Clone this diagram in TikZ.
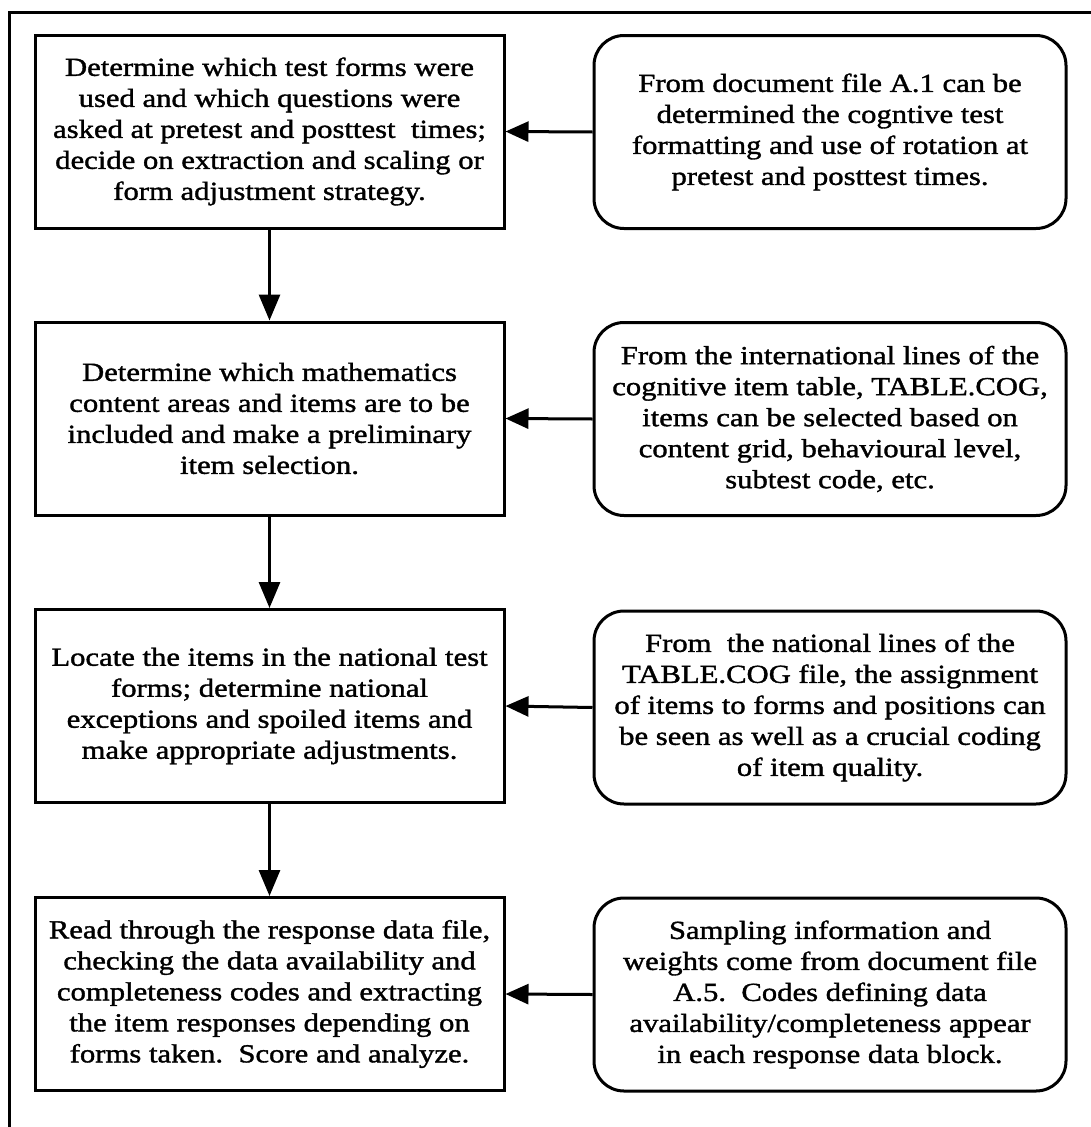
\documentclass[tikz,border=0pt]{standalone}
\usepackage{fontspec}
\setmainfont{Liberation Serif}[FakeStretch=1.18,FakeBold=1.4]
\usetikzlibrary{arrows.meta}

\tikzset{
  frameline/.style={line width=3pt},
  stepbox/.style={draw, line width=3pt, minimum width=469pt, minimum height=193pt,
    align=center, inner sep=0pt, font=\fontsize{26}{31}\selectfont},
  notebox/.style={draw, line width=3pt, rounded corners=30pt, minimum width=472pt,
    minimum height=193pt, align=center, inner sep=0pt, font=\fontsize{26}{31}\selectfont},
  downarrow/.style={line width=3pt, -{Triangle[length=26pt,width=21pt]}},
  leftarrow/.style={line width=3pt, -{Triangle[length=23pt,width=20pt]}}
}

\begin{document}
\begin{tikzpicture}[x=1pt,y=-1pt]
  \useasboundingbox (0,0) rectangle (1091,1127);

  % open frame: top and left edges only
  \coordinate (fbl) at (9,1127);
  \coordinate (ftl) at (9,12);
  \coordinate (ftr) at (1091,12);
  \draw[frameline] (fbl) -- (ftl) -- (ftr);

  % process steps (left column)
  \node[stepbox] (s1) at (269.5,131.5) {Determine which test forms were\\used and which questions were\\asked at pretest and posttest\ \ times;\\decide on extraction and scaling or\\form adjustment strategy.};
  \node[stepbox] (s2) at (269.5,418.5) {Determine which mathematics\\content areas and items are to be\\included and make a preliminary\\item selection.};
  \node[stepbox] (s3) at (269.5,706) {Locate the items in the national test\\forms; determine national\\exceptions and spoiled items and\\make appropriate adjustments.};
  \node[stepbox] (s4) at (269.5,994) {Read through the response data file,\\checking the data availability and\\completeness codes and extracting\\the item responses depending on\\forms taken.\ \ Score and analyze.};

  % information sources (right column)
  \node[notebox] (n1) at (830,132) {From document file A.1 can be\\determined the cogntive test\\formatting and use of rotation at\\pretest and posttest times.};
  \node[notebox] (n2) at (830,419) {From the international lines of the\\cognitive item table, TABLE.COG,\\items can be selected based on\\content grid, behavioural level,\\subtest code, etc.};
  \node[notebox] (n3) at (830,707.5) {From\ \ the national lines of the\\TABLE.COG file, the assignment\\of items to forms and positions can\\be seen as well as a crucial coding\\of item quality.};
  \node[notebox] (n4) at (830,994.5) {Sampling information and\\weights come from document file\\A.5.\ \ Codes defining data\\availability/completeness appear\\in each response data block.};

  % flow between steps
  \draw[downarrow] (s1.south) -- (s2.north);
  \draw[downarrow] (s2.south) -- (s3.north);
  \draw[downarrow] (s3.south) -- (s4.north);

  % sources feeding each step
  \draw[leftarrow] (n1.west) -- (s1.east);
  \draw[leftarrow] (n2.west) -- (s2.east);
  \draw[leftarrow] (n3.west) -- (s3.east);
  \draw[leftarrow] (n4.west) -- (s4.east);
\end{tikzpicture}
\end{document}
